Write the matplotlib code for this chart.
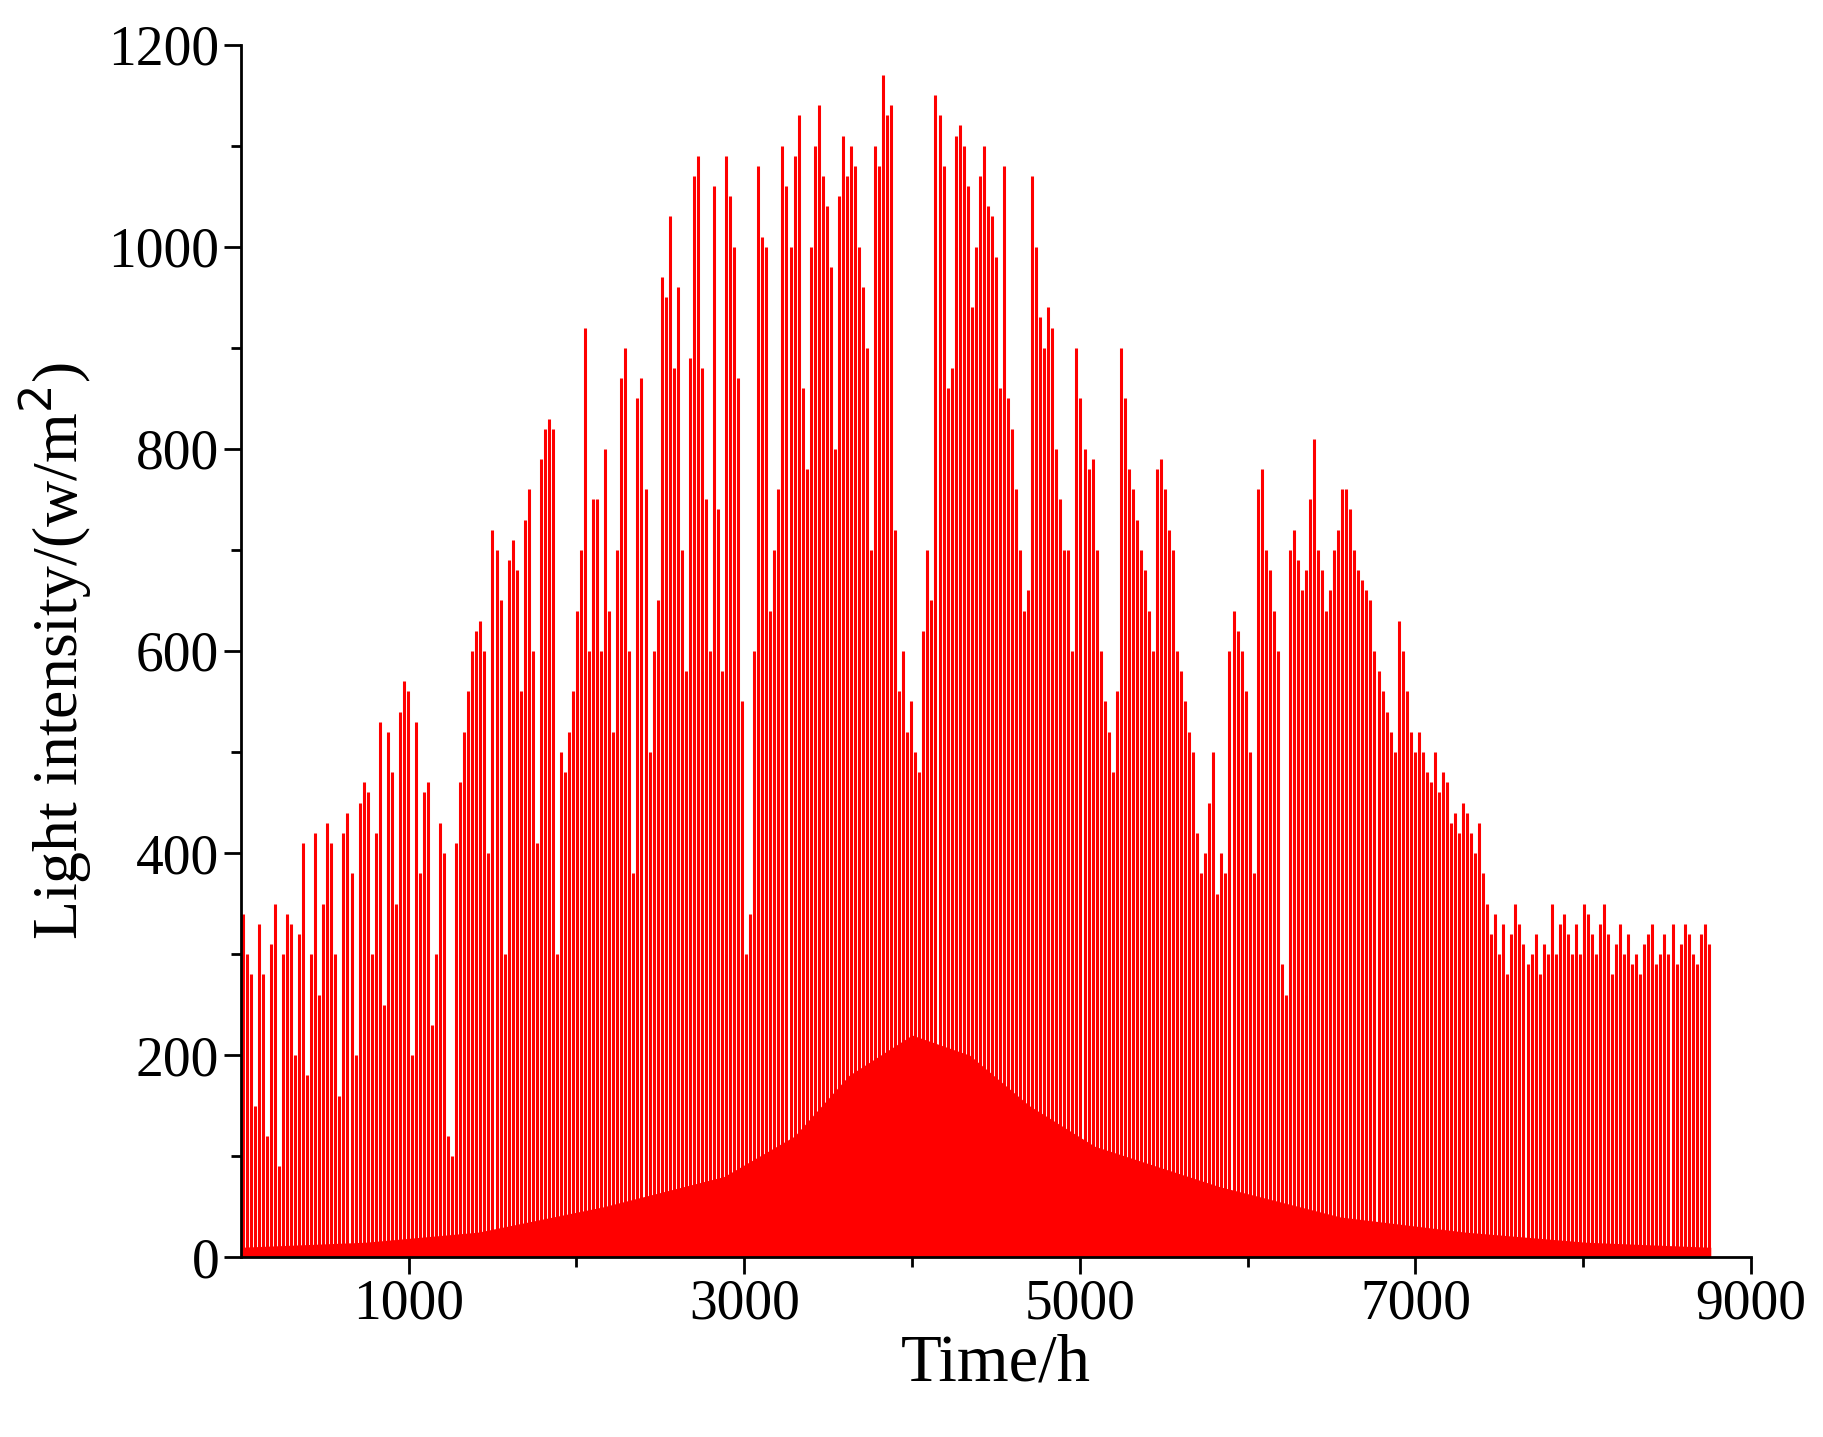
import numpy as np
import matplotlib
matplotlib.use('Agg')
from matplotlib import pyplot as plt

# daily peak light intensity (w/m2), read by month from the reference
jan = [340,300,280,150,330,280,120,310,350,90,300,340,330,200,320,410,180,300,420,260,350,430,410,300,160,420,440,380,200,450,470]
feb = [460,300,420,530,250,520,480,350,540,570,560,200,530,380,460,470,230,300,430,400,120,100,410,470,520,560,600,620]
mar = [630,600,400,720,700,650,300,690,710,680,560,730,760,600,410,790,820,830,820,300,500,480,520,560,640,700,920,600,750,750,600]
apr = [800,640,520,700,870,900,600,380,850,870,760,500,600,650,970,950,1030,880,960,700,580,890,1070,1090,880,750,600,1060,740,580]
may = [1090,1050,1000,870,550,300,340,600,1080,1010,1000,640,700,760,1100,1060,1000,1090,1130,860,780,1000,1100,1140,1070,1040,980,800,1050,1110,1070]
jun = [1100,1080,1000,960,900,700,1100,1080,1170,1130,1140,720,560,600,520,550,500,480,620,700,650,1150,1130,1080,860,880,1110,1120,1100,1060]
jul = [940,1000,1070,1100,1040,1030,990,860,1080,850,820,760,700,640,660,1070,1000,930,900,940,920,800,750,700,700,600,900,850,800,780,790]
aug = [700,600,550,520,480,560,900,850,780,760,730,700,680,640,600,780,790,760,720,700,600,580,550,520,500,420,380,400,450,500,360]
sep = [400,380,600,640,620,600,560,500,380,760,780,700,680,640,600,290,260,700,720,690,660,680,750,810,700,680,640,660,700,720]
oct_ = [760,760,740,700,680,670,660,650,600,580,560,540,520,500,630,600,560,520,500,520,500,480,470,500,460,480,470,430,440,420,450]
nov = [440,420,400,430,380,350,320,340,300,330,280,320,350,330,310,290,300,320,280,310,300,350,300,330,340,320,300,330,300,350]
dec = [340,320,300,330,350,320,280,310,330,300,320,290,300,280,310,320,330,290,300,320,300,330,290,310,330,320,300,290,320,330,310]
peaks = jan + feb + mar + apr + may + jun + jul + aug + sep + oct_ + nov + dec
hours = [24 * d + 12 for d in range(len(peaks))]

# solid lower band of the trace
base_t = [0, 744, 1416, 2160, 2880, 3300, 3624, 4000, 4344, 4700, 5088, 5832, 6552, 7296, 8016, 8760]
base_v = [10, 15, 25, 50, 80, 120, 180, 220, 200, 150, 110, 70, 40, 25, 15, 10]

plt.rcParams['font.family'] = ['Liberation Serif', 'DejaVu Serif']
fig = plt.figure(figsize=(18.24, 14.37), dpi=100)
ax = fig.add_axes([0.132, 0.125, 0.828, 0.844])
ax.fill_between(base_t, 0, base_v, color='red', lw=0)
ax.vlines(hours, 0, peaks, color='red', lw=2.2)
ax.set_xlim(0, 9000)
ax.set_ylim(0, 1200)
ax.set_xticks([1000, 3000, 5000, 7000, 9000])
ax.set_xticks([2000, 4000, 6000, 8000], minor=True)
ax.set_yticks(range(0, 1201, 200))
ax.set_yticks(range(100, 1200, 200), minor=True)
ax.spines['top'].set_visible(False)
ax.spines['right'].set_visible(False)
ax.spines['left'].set_linewidth(2)
ax.spines['bottom'].set_linewidth(2)
ax.tick_params(which='major', length=12, width=2, labelsize=40)
ax.tick_params(which='minor', length=7, width=2)
ax.set_xlabel('Time/h', fontsize=48, labelpad=2)
ax.set_ylabel('Light intensity/(w/m$^2$)', fontsize=46, labelpad=10)
fig.savefig('out.png', dpi=100)
